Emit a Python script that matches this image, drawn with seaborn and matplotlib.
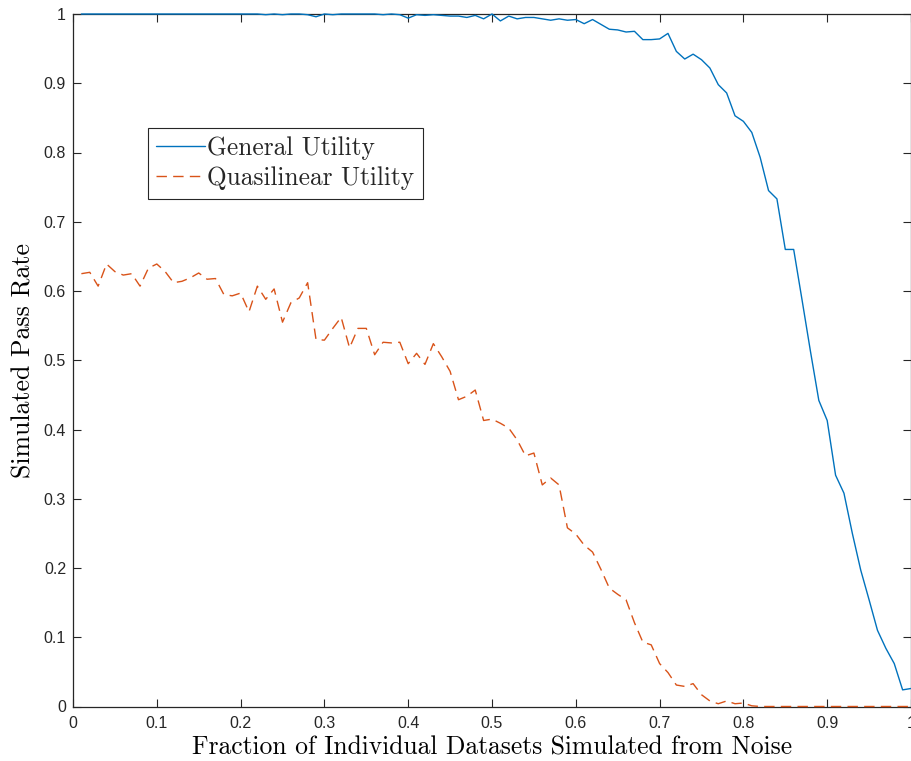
import numpy as np
import pandas as pd
import matplotlib
matplotlib.use("Agg")
import matplotlib.pyplot as plt
import seaborn as sns
from matplotlib.lines import Line2D

# ---- data ----
fraction = [round(0.01 * k, 2) for k in range(1, 101)]

general_utility = [
    1.000, 1.000, 1.000, 1.000, 1.000, 1.000, 1.000, 1.000, 1.000, 1.000,
    1.000, 1.000, 1.000, 1.000, 1.000, 1.000, 1.000, 1.000, 1.000, 1.000,
    1.000, 1.000, 0.999, 1.000, 0.999, 1.000, 1.000, 0.999, 0.996, 1.000,
    0.999, 1.000, 1.000, 1.000, 1.000, 1.000, 0.999, 1.000, 0.999, 0.994,
    0.999, 0.998, 0.999, 0.998, 0.997, 0.997, 0.995, 0.998, 0.993, 1.000,
    0.990, 0.997, 0.993, 0.995, 0.995, 0.993, 0.991, 0.993, 0.991, 0.992,
    0.986, 0.992, 0.985, 0.978, 0.977, 0.974, 0.975, 0.963, 0.963, 0.964,
    0.972, 0.946, 0.935, 0.942, 0.934, 0.922, 0.898, 0.886, 0.853, 0.845,
    0.829, 0.793, 0.745, 0.733, 0.660, 0.660, 0.587, 0.513, 0.442, 0.413,
    0.334, 0.308, 0.250, 0.197, 0.154, 0.110, 0.084, 0.062, 0.024, 0.026,
]

quasilinear_utility = [
    0.625, 0.627, 0.607, 0.639, 0.628, 0.623, 0.625, 0.607, 0.633, 0.639,
    0.628, 0.612, 0.614, 0.619, 0.626, 0.617, 0.618, 0.595, 0.593, 0.597,
    0.570, 0.607, 0.588, 0.603, 0.555, 0.583, 0.590, 0.612, 0.530, 0.529,
    0.546, 0.562, 0.518, 0.546, 0.546, 0.508, 0.526, 0.525, 0.526, 0.495,
    0.510, 0.494, 0.524, 0.505, 0.484, 0.443, 0.448, 0.457, 0.413, 0.415,
    0.409, 0.402, 0.385, 0.362, 0.366, 0.320, 0.330, 0.320, 0.258, 0.249,
    0.233, 0.223, 0.198, 0.171, 0.162, 0.154, 0.121, 0.093, 0.089, 0.062,
    0.049, 0.031, 0.029, 0.033, 0.017, 0.008, 0.004, 0.008, 0.004, 0.005,
    0.001, 0.000, 0.000, 0.000, 0.000, 0.000, 0.000, 0.000, 0.000, 0.000,
    0.000, 0.000, 0.000, 0.000, 0.000, 0.000, 0.000, 0.000, 0.000, 0.000,
]

series_names = ["General Utility", "Quasilinear Utility"]
tick_values = [0, 0.1, 0.2, 0.3, 0.4, 0.5, 0.6, 0.7, 0.8, 0.9, 1]
tick_labels = ["0", "0.1", "0.2", "0.3", "0.4", "0.5", "0.6", "0.7", "0.8", "0.9", "1"]

df = pd.DataFrame({
    "x": fraction * 2,
    "y": general_utility + quasilinear_utility,
    "series": [series_names[0]] * len(fraction) + [series_names[1]] * len(fraction),
})

# ---- style ----
sns.set_style("ticks")
plt.rcParams["font.family"] = ["Liberation Sans", "DejaVu Sans"]
axis_grey = "#262626"
blue = "#0072BD"
orange = "#D95319"
dash_pattern = (7.5, 4.5)

fig = plt.figure(figsize=(9.12, 7.61), dpi=100)
ax = fig.add_axes([73 / 912, 1 - 706.5 / 761, (911 - 73) / 912, (706.5 - 14) / 761])

sns.lineplot(data=df, x="x", y="y", hue="series", style="series",
             palette={series_names[0]: blue, series_names[1]: orange},
             dashes={series_names[0]: "", series_names[1]: dash_pattern},
             linewidth=1.0, ax=ax, legend=False)
for ln in ax.get_lines():
    ln.set_zorder(3)
    ln.set_clip_on(False)

ax.set_xlim(0, 1)
ax.set_ylim(0, 1)
ax.set_xticks(tick_values)
ax.set_xticklabels(tick_labels)
ax.set_yticks(tick_values)
ax.set_yticklabels(tick_labels)

for s in ax.spines.values():
    s.set_visible(True)
    s.set_color(axis_grey)
    s.set_linewidth(0.9)
    s.set_zorder(2)

ax.tick_params(axis="both", which="both", direction="in", length=6, width=0.8,
               color=axis_grey, labelcolor=axis_grey, labelsize=11.5,
               top=True, right=True)
ax.tick_params(axis="x", pad=7)
ax.tick_params(axis="y", pad=5)

serif = ["cmr10", "DejaVu Serif"]
ax.set_xlabel("Fraction of Individual Datasets Simulated from Noise",
              fontfamily=serif, fontsize=18.4, color="black", labelpad=3)
ax.set_ylabel("Simulated Pass Rate", fontfamily=serif, fontsize=18.6,
              color="black", labelpad=6)

handles = [Line2D([], [], color=blue, lw=1.0),
           Line2D([], [], color=orange, lw=1.0, dashes=dash_pattern)]
leg = ax.legend(handles, series_names, loc="upper left",
                bbox_to_anchor=((148 - 73) / 838, (706.5 - 128) / 692.5),
                prop={"family": serif, "size": 18.3}, frameon=True,
                fancybox=False, framealpha=1, edgecolor=axis_grey,
                borderpad=0.33, handlelength=1.9, handletextpad=0.1,
                labelspacing=0.25, borderaxespad=0)
leg.get_frame().set_linewidth(0.8)

fig.savefig("out.png", dpi=100)
